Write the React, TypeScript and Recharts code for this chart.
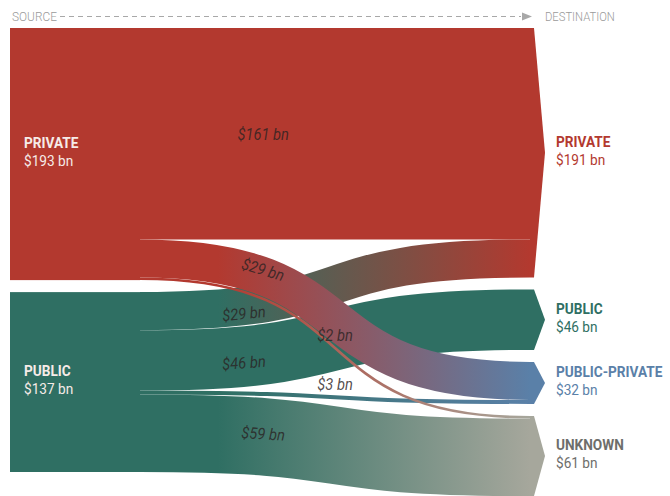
import React from 'react';
import { Sankey } from 'recharts';

// sources (left) and destinations (right)
const sourceNames = ['PRIVATE', 'PUBLIC'];
const sourceTotals = ['$193 bn', '$137 bn'];
const destNames = ['PRIVATE', 'PUBLIC', 'PUBLIC-PRIVATE', 'UNKNOWN'];
const destTotals = ['$191 bn', '$46 bn', '$32 bn', '$61 bn'];

// flows, $ bn (public flows first so private ones draw on top)
const flowFrom = [1, 1, 1, 1, 0, 0, 0];
const flowTo = [0, 1, 2, 3, 0, 2, 3];
const flowValues = [29, 46, 3, 59, 161, 29, 2];

const sourceColors = ['#b3392f', '#2f6f63'];
const destColors = ['#b3392f', '#2f6f63', '#5a80a8', '#a6a79c'];
const destTextColors = ['#b3392f', '#2f6f63', '#5a80a8', '#6e6e6b'];

const FONT = "Roboto, 'DejaVu Sans', sans-serif";

const data = {
  nodes: [...sourceNames, ...destNames].map((name) => ({ name })),
  links: flowValues.map((value, i) => ({
    source: flowFrom[i],
    target: sourceNames.length + flowTo[i],
    value,
  })),
};

function bez(p0: number, p1: number, p2: number, p3: number, t: number) {
  const u = 1 - t;
  return u * u * u * p0 + 3 * u * u * t * p1 + 3 * u * t * t * p2 + t * t * t * p3;
}

// condensed-looking text: squeeze glyphs horizontally
function Narrow({ x, y, sx = 0.88, children, ...rest }: any) {
  return (
    <text transform={`translate(${x},${y}) scale(${sx},1)`} fontFamily={FONT} {...rest}>
      {children}
    </text>
  );
}

function FlowLink(props: any) {
  const { sourceX, targetX, sourceY, targetY, sourceControlX, targetControlX, linkWidth, index } = props;
  const from = sourceColors[flowFrom[index]];
  const to = destColors[flowTo[index]];
  const id = `flow-grad-${index}`;
  const d = `M${sourceX},${sourceY}C${sourceControlX},${sourceY} ${targetControlX},${targetY} ${targetX},${targetY}`;

  const thin = linkWidth < 8;
  const rising = targetY < sourceY - 20;
  const t = thin ? 0.5 : rising ? 0.19 : 0.24;
  const lx = bez(sourceX, sourceControlX, targetControlX, targetX, t);
  const ly = bez(sourceY, sourceY, targetY, targetY, t);
  const dx = bez(sourceX, sourceControlX, targetControlX, targetX, t + 0.01) - lx;
  const dy = bez(sourceY, sourceY, targetY, targetY, t + 0.01) - ly;
  const angle = thin ? 0 : ((Math.atan2(dy, dx) * 180) / Math.PI) * 0.8;
  // keep labels clear of crossing ribbons: rising flows label low, falling flows label high
  const shift = thin ? -7 : Math.sign(sourceY - targetY) * Math.min(7, Math.abs(targetY - sourceY) / 7);
  const label = `$${flowValues[index]} bn`;

  return (
    <g>
      <defs>
        <linearGradient id={id} gradientUnits="userSpaceOnUse" x1={sourceX} y1={0} x2={targetX} y2={0}>
          <stop offset="0.2" stopColor={from} />
          <stop offset="1" stopColor={to} />
        </linearGradient>
      </defs>
      <path d={d} fill="none" stroke={`url(#${id})`} strokeWidth={linkWidth} />
      <g transform={`translate(${lx},${ly + shift}) rotate(${angle})`}>
        <text
          x={0}
          y={thin ? 0 : 6}
          transform="scale(0.92,1)"
          textAnchor="middle"
          fontFamily={FONT}
          fontStyle="italic"
          fontSize={16}
          fill="#2a2222"
          fillOpacity={0.8}
        >
          {label}
        </text>
      </g>
    </g>
  );
}

function FlowNode(props: any) {
  const { x, y, width, height, index } = props;
  const cy = y + height / 2;
  if (index < sourceNames.length) {
    return (
      <g>
        <rect x={x} y={y} width={width} height={height} fill={sourceColors[index]} />
        <Narrow x={x + 14} y={cy - 6} fontWeight="bold" fontSize={15.5} fill="#f6ebe8">
          {sourceNames[index]}
        </Narrow>
        <Narrow x={x + 14} y={cy + 12} fontSize={15.5} fill="#f6ebe8">
          {sourceTotals[index]}
        </Narrow>
      </g>
    );
  }
  const i = index - sourceNames.length;
  const pts = `${x},${y} ${x + 4},${y} ${x + 15},${cy} ${x + 4},${y + height} ${x},${y + height}`;
  return (
    <g>
      <polygon points={pts} fill={destColors[i]} />
      <Narrow x={x + 26} y={cy - 6} fontWeight="bold" fontSize={15.5} fill={destTextColors[i]}>
        {destNames[i]}
      </Narrow>
      <Narrow x={x + 26} y={cy + 12} fontSize={15.5} fill={destTextColors[i]}>
        {destTotals[i]}
      </Narrow>
    </g>
  );
}

export default function App() {
  return (
    <div style={{ position: 'absolute', left: 0, top: 0, width: 670, height: 496, overflow: 'hidden', background: '#fff' }}>
      <Sankey
        width={670}
        height={496}
        data={data}
        margin={{ top: 28, right: 10, bottom: 0, left: 10 }}
        nodeWidth={130}
        nodePadding={12}
        iterations={0}
        sort={false}
        linkCurvature={0.6}
        node={<FlowNode />}
        link={<FlowLink />}
      />
      <svg width={670} height={28} style={{ position: 'absolute', left: 0, top: 0 }}>
        <Narrow x={12} y={21} sx={0.95} fontSize={12.5} fontWeight={300} fill="#9a9a9a">SOURCE</Narrow>
        <line x1={60} y1={16.5} x2={521} y2={16.5} stroke="#a8a8a8" strokeWidth={1} strokeDasharray="5 4" />
        <polygon points="522,12.5 532,16.5 522,20.5" fill="#a8a8a8" />
        <Narrow x={545} y={21} sx={0.9} fontSize={12.5} fontWeight={300} fill="#9a9a9a">DESTINATION</Narrow>
      </svg>
    </div>
  );
}
